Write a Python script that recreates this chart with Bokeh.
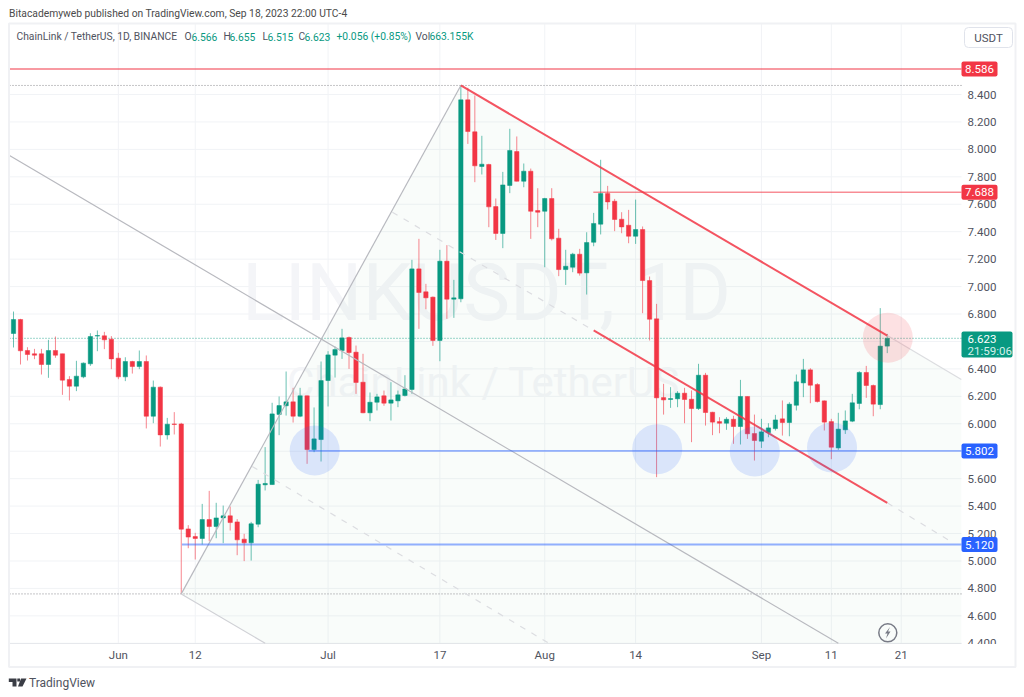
from bokeh.plotting import figure
from bokeh.models import (ColumnDataSource, FixedTicker, NumeralTickFormatter, Label,
                          BoxAnnotation, PolyAnnotation, Range1d)
from bokeh.core.properties import value
from bokeh.embed import file_html
from bokeh.resources import INLINE

# ---------- data (daily candles, index 0 = 17 May 2023) ----------
opens = [6.658,6.760,6.534,6.510,6.510,6.432,6.534,6.510,6.323,6.274,6.342,6.437,6.639,6.641,6.617,6.478,6.342,6.454,6.417,6.454,
         6.055,6.267,5.919,5.999,5.999,5.234,5.178,5.164,5.302,5.251,5.314,5.329,5.285,5.159,5.132,5.268,5.555,5.557,6.068,6.131,
         6.160,6.055,6.204,5.812,5.885,6.315,6.500,6.534,6.629,6.522,6.303,6.080,6.157,6.204,6.150,6.167,6.206,6.250,7.129,6.962,
         6.923,6.607,7.185,6.908,6.911,8.361,8.128,7.875,7.890,7.583,7.387,7.737,7.984,7.768,7.841,7.554,7.549,7.642,7.353,7.124,
         7.141,7.236,7.100,7.323,7.455,7.678,7.622,7.491,7.447,7.367,7.416,7.044,6.765,6.191,6.177,6.182,6.223,6.179,6.111,6.354,
         6.084,6.016,6.004,6.033,5.980,6.199,5.929,5.873,5.936,5.965,6.036,6.009,6.135,6.298,6.393,6.286,6.167,6.016,5.824,5.956,
         6.019,6.148,6.374,6.279,6.140,6.566]
highs = [6.818,6.765,6.558,6.546,6.546,6.612,6.636,6.510,6.347,6.459,6.447,6.660,6.680,6.670,6.639,6.517,6.485,6.459,6.534,6.498,
         6.315,6.272,6.043,6.085,6.007,5.261,5.205,5.416,5.511,5.424,5.404,5.397,5.305,5.198,5.285,5.591,5.830,6.153,6.199,6.381,
         6.262,6.262,6.206,6.119,6.454,6.529,6.563,6.692,6.636,6.570,6.510,6.228,6.218,6.242,6.303,6.242,6.354,7.195,7.348,7.020,
         6.928,7.268,7.302,7.049,8.466,8.449,8.393,8.099,7.895,7.642,7.836,8.150,8.094,7.897,7.860,7.717,7.647,7.717,7.421,7.268,
         7.246,7.275,7.396,7.537,7.924,7.734,7.639,7.542,7.559,7.634,7.438,7.073,6.874,6.291,6.267,6.238,6.262,6.243,6.437,6.371,
         6.087,6.048,6.048,6.058,6.320,6.199,6.067,6.036,6.004,6.065,6.170,6.157,6.359,6.473,6.405,6.296,6.170,6.036,6.080,6.097,
         6.218,6.383,6.422,6.286,6.843,6.655]
lows = [6.556,6.432,6.461,6.471,6.359,6.335,6.481,6.211,6.170,6.238,6.332,6.422,6.529,6.544,6.398,6.325,6.311,6.366,6.398,5.966,
        6.004,5.834,5.885,5.922,4.760,5.093,5.011,5.120,5.144,5.166,5.130,5.222,5.042,4.999,5.003,5.246,5.514,5.555,5.917,6.060,
        6.009,6.048,5.708,5.793,5.725,6.126,6.337,6.473,6.400,6.218,6.077,6.019,6.097,6.131,6.024,6.121,6.199,6.218,6.692,6.835,
        6.568,6.456,6.765,6.772,6.886,8.040,7.761,7.817,7.433,7.340,7.280,7.681,7.766,7.724,7.348,7.433,7.141,7.336,7.076,7.012,
        7.105,7.080,6.942,7.294,7.380,7.562,7.404,7.389,7.316,7.311,6.806,6.607,5.611,6.067,6.116,6.121,6.004,5.866,6.101,5.987,
        5.917,5.931,5.956,5.854,5.849,5.890,5.732,5.824,5.902,5.951,5.914,5.909,6.097,6.194,6.150,6.155,5.951,5.742,5.810,5.926,
        6.012,6.106,6.189,6.055,6.106,6.515]
closes = [6.760,6.532,6.505,6.500,6.432,6.534,6.500,6.318,6.274,6.347,6.442,6.636,6.643,6.612,6.473,6.342,6.454,6.417,6.454,6.055,
          6.267,5.919,5.997,5.995,5.232,5.174,5.164,5.302,5.251,5.314,5.329,5.280,5.154,5.132,5.271,5.560,5.565,6.072,6.133,6.160,
          6.055,6.204,5.812,5.890,6.315,6.502,6.541,6.626,6.519,6.301,6.080,6.157,6.196,6.150,6.174,6.211,6.254,7.129,6.957,6.918,
          6.607,7.185,6.908,6.918,8.361,8.130,7.880,7.892,7.581,7.387,7.741,7.992,7.768,7.841,7.549,7.542,7.642,7.348,7.124,7.148,
          7.236,7.098,7.321,7.460,7.678,7.617,7.489,7.435,7.367,7.416,7.044,6.762,6.189,6.174,6.184,6.223,6.177,6.111,6.354,6.082,
          6.012,6.004,6.033,5.980,6.199,5.927,5.878,5.941,5.970,6.028,6.009,6.143,6.306,6.393,6.281,6.162,6.012,5.829,5.961,6.021,
          6.153,6.374,6.279,6.143,6.566,6.623]

price_ticks = [4.4,4.6,4.8,5.0,5.2,5.4,5.6,5.8,6.0,6.2,6.4,6.6,6.8,7.0,7.2,7.4,7.6,7.8,8.0,8.2,8.4]
date_ticks = [15,26,45,61,76,89,107,117,127]
date_labels = ["Jun","12","Jul","17","Aug","14","Sep","11","21"]

res_top = 8.586; res_mid = 7.688; sup_mid = 5.802; sup_low = 5.120; last_price = 6.623
swing_high = 8.466; swing_low = 4.760

# drawing tools, (day index, price)
fan_up_x = [24.0, 64.0];         fan_up_y = [4.760, 8.466]
far_line_x = [-0.57, 118.0];     far_line_y = [7.955, 4.400]
red_top_x = [64.0, 125.0];       red_top_y = [8.466, 6.643]
top_ext_x = [125.0, 135.6];      top_ext_y = [6.643, 6.323]
red_low_x = [83.0, 125.0];       red_low_y = [6.680, 5.424]
dash_a1_x = [54.2, 83.0];        dash_a1_y = [7.542, 6.680]
dash_a2_x = [125.0, 134.5];      dash_a2_y = [5.424, 5.130]
dash_b_x = [34.15, 76.6];        dash_b_y = [5.689, 4.400]
low_line_x = [24.0, 36.0];       low_line_y = [4.760, 4.400]
zone_x = [24.0, 64.0, 135.6, 135.6, 36.0]
zone_y = [4.760, 8.466, 6.323, 4.3985, 4.3985]
blue_x = [43.09, 92.09, 106.05, 117.1]; blue_y = [5.805, 5.815, 5.798, 5.827]
pink_x = [125.08]; pink_y = [6.627]

RED = "#f23645"; GREEN = "#089981"; BLUE = "#2962ff"
TXT = "#50535e"; GRID = "#f1f3f6"
FONT = "Roboto"

# page-pixel helpers for placing data-space items
def X(px): return (px - 13.0) / 6.99
def Y(py): return 8.4 - (py - 94.0) / 137.2

W, H = 1020, 692
p = figure(width=W, height=H, output_backend="svg", toolbar_location=None,
           x_range=Range1d(X(0), X(W)), y_range=Range1d(Y(H), Y(0)),
           y_axis_location="right", min_border_left=0, min_border_right=0,
           min_border_top=0, min_border_bottom=0, outline_line_color=None)
p.background_fill_color = "white"; p.border_fill_color = "white"

p.xaxis.ticker = FixedTicker(ticks=date_ticks)
p.xaxis.major_label_overrides = dict(zip(date_ticks, date_labels))
p.yaxis.ticker = FixedTicker(ticks=price_ticks)
p.yaxis.formatter = NumeralTickFormatter(format="0.000")
for ax in (p.xaxis[0], p.yaxis[0]):
    ax.major_tick_line_color = None; ax.minor_tick_line_color = None
    ax.major_tick_out = 0; ax.major_tick_in = 0
    ax.minor_tick_out = 0; ax.minor_tick_in = 0
    ax.axis_line_color = None
    ax.major_label_text_color = TXT
    ax.major_label_text_font = FONT
    ax.major_label_text_font_size = "11.5px"
p.xaxis[0].fixed_location = Y(643)
p.yaxis[0].fixed_location = X(961)
p.xaxis.major_label_standoff = 4
p.yaxis.major_label_standoff = 6
p.xgrid.visible = False; p.ygrid.visible = False

# plot-area grid, drawn from the tick lists so that it stops at the price scale
xl, xr = X(9), X(961)
yb, yt = Y(643), Y(23)
p.segment([xl]*len(price_ticks), price_ticks, [xr]*len(price_ticks), price_ticks,
          line_color=GRID, line_width=1, level="underlay")
p.segment(date_ticks, [yb]*len(date_ticks), date_ticks, [yt]*len(date_ticks),
          line_color=GRID, line_width=1, level="underlay")
p.segment([xl], [yb], [xr], [yb], line_color="#e6e8ec", line_width=1, level="underlay")

# watermark
p.text([X(486)], [Y(292)], text=["LINKUSDT, 1D"], text_font=value(FONT), text_font_size="79px",
       text_color="#f4f5f8", text_align="center", text_baseline="middle", level="underlay")
p.text([X(483)], [Y(382)], text=["ChainLink / TetherUS"], text_font=value(FONT), text_font_size="42px",
       text_color="#f4f5f8", text_align="center", text_baseline="middle", level="underlay")

# pitchfork zone
p.patch(zone_x, zone_y, fill_color="#4caf50", fill_alpha=0.03, line_color=None)

# reference levels
p.line([xl, xr], [swing_high]*2, line_color="#8a8a8f", line_dash="1 2", line_width=1)
p.line([xl, xr], [swing_low]*2, line_color="#8a8a8f", line_dash="1 2", line_width=1)
p.line([xl, xr], [last_price]*2, line_color=GREEN, line_alpha=0.8, line_dash="1 2", line_width=1)

# candles
idx = list(range(len(opens)))
cols = [GREEN if c >= o else RED for o, c in zip(opens, closes)]
src = ColumnDataSource(dict(x=idx, o=opens, h=highs, l=lows, c=closes, col=cols))
p.segment("x", "h", "x", "l", source=src, line_color="col", line_alpha=0.6, line_width=1)
p.vbar("x", top="o", bottom="c", width=0.62, source=src, fill_color="col", line_color="col", line_width=0.5)

# drawing tools
grey = "#b8b9bf"
p.line(fan_up_x, fan_up_y, line_color=grey, line_width=1.2)
p.line(far_line_x, far_line_y, line_color=grey, line_width=1.2)
p.line(low_line_x, low_line_y, line_color="#d0d1d6", line_width=1.2)
p.line(top_ext_x, top_ext_y, line_color="#dcdde0", line_width=1.2)
for dx_, dy_ in ((dash_a1_x, dash_a1_y), (dash_a2_x, dash_a2_y), (dash_b_x, dash_b_y)):
    p.line(dx_, dy_, line_color="#dcdde1", line_width=1.2, line_dash="6 7")
p.line(red_top_x, red_top_y, line_color=RED, line_width=2, line_alpha=0.85)
p.line(red_low_x, red_low_y, line_color=RED, line_width=2, line_alpha=0.85)

p.line([xl, xr], [res_top]*2, line_color=RED, line_alpha=0.5, line_width=2)
p.line([82.95, xr], [res_mid]*2, line_color=RED, line_alpha=0.85, line_width=1)
p.line([42.2, xr], [sup_mid]*2, line_color=BLUE, line_alpha=0.85, line_width=1)
p.line([24.1, xr], [sup_low]*2, line_color=BLUE, line_alpha=0.5, line_width=2)

p.scatter(blue_x, blue_y, marker="circle", size=50, fill_color=BLUE, fill_alpha=0.15, line_color=None)
p.scatter(pink_x, pink_y, marker="circle", size=50, fill_color=RED, fill_alpha=0.15, line_color=None)

# lightning icon
p.scatter([X(887.3)], [Y(632.3)], marker="circle", size=18, fill_color=None, line_color="#787b86", line_width=1.5)

def poly(xs, ys, color):
    p.add_layout(PolyAnnotation(xs=xs, ys=ys, xs_units="canvas", ys_units="canvas",
                                fill_color=color, fill_alpha=1, line_color=None))

poly((889.5, 884.5, 887, 885.5, 890, 887.5), (626.5, 633, 633, 638, 631, 631), "#787b86")

def lab(x, y, text, color=TXT, size="10.3px", align="left", style="normal"):
    p.add_layout(Label(x=x, y=y, x_units="canvas", y_units="canvas", text=text, text_color=color,
                       text_font_size=size, text_align=align, text_baseline="middle",
                       text_font=FONT, text_font_style=style))

def box(l, r, t, b, fill=None, line=None, lw=1, rad=2):
    p.add_layout(BoxAnnotation(left=l, right=r, top=t, bottom=b, left_units="canvas", right_units="canvas",
                               top_units="canvas", bottom_units="canvas",
                               fill_color=fill, fill_alpha=1 if fill else 0,
                               line_color=line, line_width=lw, line_alpha=1 if line else 0, border_radius=rad))

# the lowest price label is cut by the time scale
box(962, 1012, 643.5, 650, "white", None, 1, 0)

# outer frame
box(8.5, 1015, 23, 666.5, None, "#f0f1f4", 2, 0)

# header texts
lab(8.5, 12.5, "Bitacademyweb published on TradingView.com, Sep 18, 2023 22:00 UTC-4", "#4a4a4a")
lab(16, 36, "ChainLink / TetherUS, 1D, BINANCE", TXT)
for xp, t in ((184, "O"), (223, "H"), (262, "L"), (298, "C"), (415, "Vol")):
    lab(xp, 36, t, TXT)
for xp, t in ((191, "6.566"), (229, "6.655"), (267, "6.515"), (304, "6.623"), (336, "+0.056 (+0.85%)"), (429, "663.155K")):
    lab(xp, 36, t, GREEN)

# price badges
for price, col, txt in ((res_top, RED, "8.586"), (res_mid, RED, "7.688"), (sup_mid, BLUE, "5.802"), (sup_low, BLUE, "5.120")):
    cy = 94 + (8.4 - price) * 137.2
    box(961, 997, cy - 7.5, cy + 7.5, col, None, 1, 2)
    lab(979, cy, txt, "white", "11.5px", "center")
box(961, 1012, 331, 357, GREEN, None, 1, 2)
lab(967, 338, "6.623", "white", "11.5px", "left")
lab(967, 350, "21:59:06", "#d5f0ea", "11.5px", "left")

# currency button
box(964, 1012, 27, 47, "white", "#e0e3eb", 1, 4)
lab(988, 37, "USDT", TXT, "11.5px", "center")

# footer logo
poly((8.3, 16, 16, 12, 12, 8.3), (678, 678, 686, 686, 681.5, 681.5), "#3a3d45")
poly((16.8, 19.5, 19.5, 16.8), (678, 678, 681, 681), "#3a3d45")
poly((20.5, 26, 22, 17.5), (678, 678, 686, 686), "#3a3d45")
lab(28.5, 682, "TradingView", TXT, "12px")

open("out.html", "w").write(file_html(p, INLINE))
